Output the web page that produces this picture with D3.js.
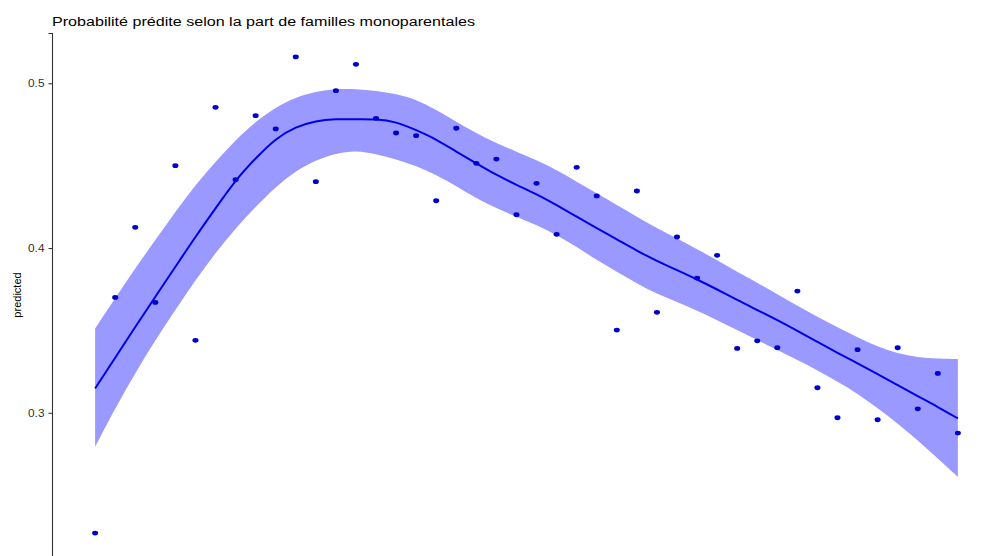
<!DOCTYPE html>
<html>
<head>
<meta charset="utf-8">
<script src="https://cdn.jsdelivr.net/npm/d3@7"></script>
<style>
  html, body { margin: 0; padding: 0; background: #fff; }
  svg { display: block; }
  text { font-family: "Liberation Sans", Arial, Helvetica, sans-serif; }
</style>
</head>
<body>
<svg id="chart" width="988" height="556"></svg>
<script>
// ---- data ----
const titleText = "Probabilité prédite selon la part de familles monoparentales";
const yLabel = "predicted";
const xIndex = d3.range(1, 45); // 44 evenly spaced observations
const observed = [0.227,0.370,0.4126,0.367,0.450,0.344,0.4854,0.4415,0.4803,0.4723,
  0.516,0.4403,0.4955,0.5115,0.4787,0.4698,0.4682,0.4287,0.4727,0.4514,
  0.454,0.4202,0.4393,0.4083,0.449,0.4316,0.3502,0.4346,0.361,0.4067,
  0.3818,0.3956,0.3391,0.3437,0.3395,0.3739,0.3152,0.297,0.3383,0.2958,
  0.3395,0.3024,0.3239,0.2877];
const fitted = [0.3148,0.3334,0.3522,0.3704,0.3886,0.4069,0.4241,0.4413,0.4545,0.4666,
  0.4736,0.4773,0.4783,0.4781,0.4783,0.4767,0.4716,0.4660,0.4585,0.4514,
  0.4443,0.4383,0.4328,0.4261,0.4190,0.4120,0.4053,0.3984,0.3921,0.3866,
  0.3810,0.3749,0.3684,0.3624,0.3563,0.3498,0.3431,0.3364,0.3300,0.3235,
  0.3168,0.3101,0.3036,0.2966];
const upper = [0.3512,0.3695,0.3877,0.4049,0.4220,0.4383,0.4524,0.4656,0.4767,0.4854,
  0.4915,0.4949,0.4967,0.4965,0.4955,0.4935,0.4903,0.4838,0.4767,0.4696,
  0.4636,0.4585,0.4534,0.4474,0.4403,0.4332,0.4261,0.4190,0.4120,0.4059,
  0.3992,0.3927,0.3856,0.3789,0.3721,0.3648,0.3583,0.3519,0.3458,0.3401,
  0.3361,0.3336,0.3328,0.3326];
const lower = [0.2794,0.3029,0.3241,0.3441,0.3624,0.3806,0.3970,0.4121,0.4251,0.4372,
  0.4469,0.4534,0.4575,0.4593,0.4571,0.4539,0.4498,0.4443,0.4376,0.4302,
  0.4241,0.4190,0.4140,0.4079,0.4008,0.3927,0.3856,0.3786,0.3721,0.3674,
  0.3619,0.3563,0.3502,0.3441,0.3381,0.3320,0.3259,0.3188,0.3118,0.3027,
  0.2936,0.2834,0.2723,0.2611];
const yTicks = [0.3, 0.4, 0.5];
const xTicks = [0, 10, 20, 30, 40];

// ---- drawing ----
const svg = d3.select("#chart");
const panel = { left: 52, right: 1001, top: 33, bottom: 557 };

const x = d3.scaleLinear().domain([-1.15, 46.15]).range([panel.left, panel.right]);
const y = d3.scaleLinear().domain([0.2125, 0.5305]).range([panel.bottom, panel.top]);

const rows = xIndex.map((xi, i) => ({ x: xi, obs: observed[i], fit: fitted[i], lo: lower[i], hi: upper[i] }));

// confidence band
svg.append("path")
  .datum(rows)
  .attr("fill", "#9999ff")
  .attr("stroke", "none")
  .attr("d", d3.area()
    .curve(d3.curveBasis)
    .x(d => x(d.x))
    .y0(d => y(d.lo))
    .y1(d => y(d.hi)));

// fitted line
svg.append("path")
  .datum(rows)
  .attr("fill", "none")
  .attr("stroke", "#0000e6")
  .attr("stroke-width", 2)
  .attr("d", d3.line()
    .curve(d3.curveBasis)
    .x(d => x(d.x))
    .y(d => y(d.fit)));

// observed points
svg.append("g")
  .selectAll("ellipse")
  .data(rows)
  .join("ellipse")
  .attr("cx", d => x(d.x))
  .attr("cy", d => y(d.obs))
  .attr("rx", 3)
  .attr("ry", 2.4)
  .attr("fill", "#0000cc");

// y axis
const yAxis = svg.append("g")
  .attr("transform", `translate(${panel.left},0)`)
  .call(d3.axisLeft(y).tickValues(yTicks).tickFormat(d3.format(".1f")).tickSize(3.5).tickPadding(4));
yAxis.select(".domain").attr("stroke", "#333").attr("stroke-width", 1.1);
yAxis.selectAll(".tick line").attr("stroke", "#333").attr("stroke-width", 1.1);
yAxis.selectAll(".tick text").attr("fill", "#303030").style("font-size", "10.5px")
  .attr("textLength", 16.5).attr("lengthAdjust", "spacingAndGlyphs")
  .style("font-family", '"Liberation Sans", Arial, sans-serif');

// x axis (sits at the bottom edge; its labels are outside the picture in the reference)
const xAxis = svg.append("g")
  .attr("transform", `translate(0,${panel.bottom})`)
  .call(d3.axisBottom(x).tickValues(xTicks).tickSize(3.5).tickFormat(""));
xAxis.select(".domain").attr("stroke", "#333");
xAxis.selectAll(".tick line").attr("stroke", "#333");

// y label
svg.append("text")
  .attr("transform", `translate(21,${(panel.top + panel.bottom) / 2}) rotate(-90)`)
  .attr("text-anchor", "middle")
  .style("font-size", "11px")
  .attr("fill", "#000")
  .text(yLabel);

// title
svg.append("text")
  .attr("x", 52)
  .attr("y", 25.5)
  .style("font-size", "12.5px")
  .attr("textLength", 423)
  .attr("lengthAdjust", "spacingAndGlyphs")
  .attr("fill", "#000")
  .text(titleText);
</script>
</body>
</html>
